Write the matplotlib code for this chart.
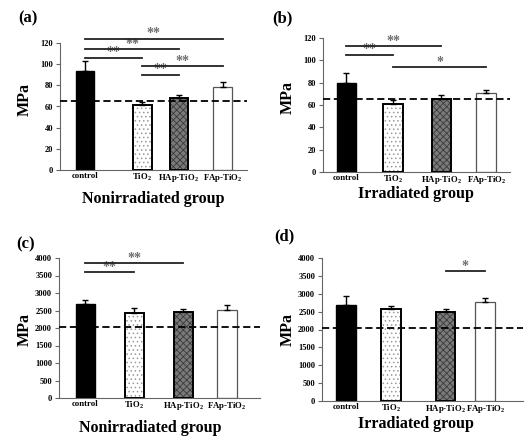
import matplotlib
matplotlib.use("Agg")
import matplotlib.pyplot as plt

# ---------------- data ----------------
categories = ["control", "TiO$_2$", "HAp-TiO$_2$", "FAp-TiO$_2$"]

a_vals = [94, 61, 68, 78]
a_err = [9, 3.5, 3, 5.5]
a_ref = 65
a_sig = [(0, 3, 124, "**"), (0, 2, 114, "**"), (0, 1, 106, "**"),
         (1, 3, 98, "**"), (1, 2, 90, "**")]

b_vals = [80, 61, 65, 71]
b_err = [9, 3.5, 3.7, 2.5]
b_ref = 65
b_sig = [(0, 2, 112.5, "**"), (0, 1, 105, "**"), (1, 3, 94, "*")]

c_vals = [2700, 2430, 2450, 2525]
c_err = [100, 140, 100, 125]
c_ref = 2030
c_sig = [(0, 2, 3860, "**"), (0, 1, 3600, "**")]

d_vals = [2680, 2580, 2480, 2770]
d_err = [250, 90, 95, 100]
d_ref = 2030
d_sig = [(2, 3, 3630, "*")]

# ---------------- style ----------------
SERIF = "Liberation Serif"
plt.rcParams["font.family"] = [SERIF, "DejaVu Serif"]
plt.rcParams["font.weight"] = "bold"
plt.rcParams["mathtext.fontset"] = "custom"
plt.rcParams["mathtext.rm"] = SERIF + ":bold"
plt.rcParams["mathtext.default"] = "rm"
plt.rcParams["hatch.linewidth"] = 0.6

W, H = 526, 441
fig = plt.figure(figsize=(W / 100, H / 100), dpi=100)


def px_axes(left, right, top, bottom):
    return fig.add_axes([left / W, (H - bottom) / H, (right - left) / W, (bottom - top) / H])


def fig_text(x, y, s, **kw):
    fig.text(x / W, (H - y) / H, s, **kw)


def panel(ax, vals, err, ref, sig, ymax, ystep, pos, width):
    fills = [dict(color="black", hatch=None, edge="black"),
             dict(color="white", hatch="....", edge="#9a9a9a"),
             dict(color="#7a7a7a", hatch="xxxxx", edge="#3a3a3a"),
             dict(color="white", hatch=None, edge="white")]
    outline = ["black", "black", "black", "#555555"]
    olw = [1.0, 1.4, 1.4, 0.9]
    for i, v in enumerate(vals):
        f = fills[i]
        ax.bar(pos[i], v, width=width, color=f["color"], hatch=f["hatch"],
               edgecolor=f["edge"], linewidth=0, zorder=2)
        ax.bar(pos[i], v, width=width, fill=False, edgecolor=outline[i],
               linewidth=olw[i], zorder=3)
    ax.errorbar(pos, vals, yerr=[[0] * len(err), err], fmt="none",
                ecolor="black", elinewidth=1.0, capsize=2.5, capthick=1.0, zorder=4)
    ax.axhline(ref, color="black", linestyle=(0, (4, 2)), linewidth=1.3, zorder=5)
    for i0, i1, y, s in sig:
        ax.plot([pos[i0], pos[i1]], [y, y], color="#222222", linewidth=1.3,
                clip_on=False, zorder=6)
        ax.text((pos[i0] + pos[i1]) / 2, y - ymax * 0.012, s, ha="center", va="bottom",
                fontsize=10, color="#6e6e6e", fontweight="bold", clip_on=False)
    ax.set_xlim(0, 1)
    ax.set_ylim(0, ymax)
    ax.set_yticks(range(0, ymax + 1, ystep))
    ax.set_xticks(pos)
    ax.set_xticklabels(categories)
    ax.tick_params(axis="x", length=0, labelsize=6.3, pad=1.5)
    ax.tick_params(axis="y", length=3, width=0.8, color="#666666", labelsize=6, pad=2)
    for lab in ax.get_xticklabels() + ax.get_yticklabels():
        lab.set_fontweight("bold")
    ax.spines["top"].set_visible(False)
    ax.spines["right"].set_visible(False)
    ax.spines["left"].set_color("#666666")
    ax.spines["bottom"].set_color("#666666")
    ax.spines["left"].set_linewidth(0.8)
    ax.spines["bottom"].set_linewidth(0.8)


axa = px_axes(60, 247, 43, 170)
panel(axa, a_vals, a_err, a_ref, a_sig, 120, 20, [0.134, 0.44, 0.636, 0.87], 0.10)
axb = px_axes(323, 510, 38, 172)
panel(axb, b_vals, b_err, b_ref, b_sig, 120, 20, [0.125, 0.373, 0.633, 0.873], 0.105)
axc = px_axes(59, 260, 258, 398)
panel(axc, c_vals, c_err, c_ref, c_sig, 4000, 500, [0.131, 0.375, 0.618, 0.836], 0.095)
axd = px_axes(322, 523, 258, 401)
panel(axd, d_vals, d_err, d_ref, d_sig, 4000, 500, [0.121, 0.343, 0.615, 0.812], 0.098)

lab_kw = dict(fontsize=12, fontweight="bold", ha="center", va="center")
fig_text(28, 18, "(a)", **lab_kw)
fig_text(282, 18, "(b)", **lab_kw)
fig_text(26, 244, "(c)", **lab_kw)
fig_text(284, 236, "(d)", **lab_kw)

y_kw = dict(fontsize=11.5, fontweight="bold", ha="center", va="center", rotation=90)
fig_text(25, 100, "MPa", **y_kw)
fig_text(288, 97, "MPa", **y_kw)
fig_text(25, 330, "MPa", **y_kw)
fig_text(288, 330, "MPa", **y_kw)

x_kw = dict(fontsize=11.5, fontweight="bold", ha="center", va="center")
fig_text(153, 199, "Nonirradiated group", **x_kw)
fig_text(416, 194, "Irradiated group", **x_kw)
fig_text(150, 428, "Nonirradiated group", **x_kw)
fig_text(416, 424, "Irradiated group", **x_kw)

fig.savefig("out.png", dpi=100)
